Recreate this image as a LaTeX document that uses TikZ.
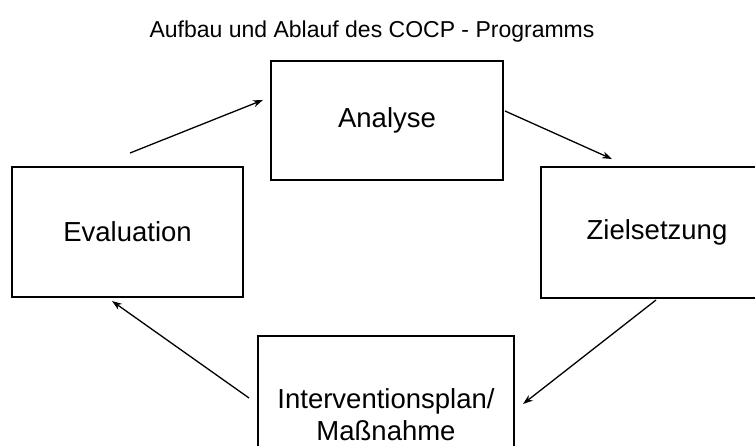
\documentclass[tikz,border=0pt]{standalone}
\usepackage{fontspec}
\setmainfont{Liberation Sans}
\usetikzlibrary{arrows.meta}
\begin{document}
\begin{tikzpicture}[x=1pt,y=-1pt,
  box/.style={draw=black,line width=2pt,minimum width=232pt,inner sep=0pt,
    font=\fontsize{27.5}{32}\selectfont,align=center},
  conn/.style={line width=1.3pt,-{Stealth[length=10pt,width=7pt]}},
  titletext/.style={font=\fontsize{23}{28}\selectfont}]
\useasboundingbox (0,0) rectangle (755,446);
\clip (0,0) rectangle (755,446);
\node[titletext] (title) at (372,32) {Aufbau und Ablauf des COCP - Programms};
\node[box,minimum height=119pt] (ana) at (387,120.5) {Analyse};
\node[box,minimum width=231pt,minimum height=130pt] (eva) at (127.5,232) {Evaluation};
\node[box,minimum height=131pt] (ziel) at (657,232.5) {Zielsetzung};
\node[box,minimum width=256pt,minimum height=158pt] (int) at (386,415) {Interventionsplan/\\Maßnahme};
\coordinate (a1s) at (130,153);
\coordinate (a1e) at (263,100);
\coordinate (a2s) at (505,111);
\coordinate (a2e) at (612,159);
\coordinate (a3s) at (656,300);
\coordinate (a3e) at (523,404);
\coordinate (a4s) at (249,398);
\coordinate (a4e) at (112,301);
\draw[conn] (a1s) -- (a1e);
\draw[conn] (a2s) -- (a2e);
\draw[conn] (a3s) -- (a3e);
\draw[conn] (a4s) -- (a4e);
\end{tikzpicture}
\end{document}
